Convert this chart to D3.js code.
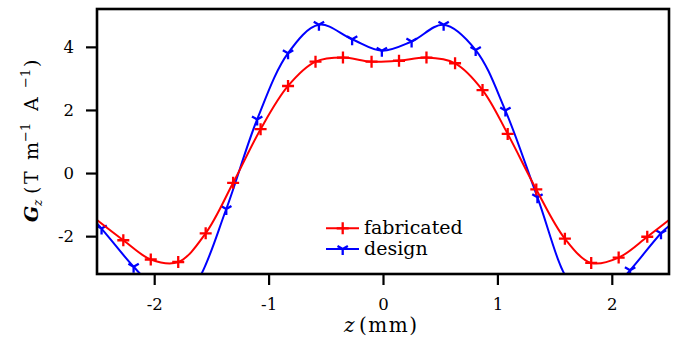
<!DOCTYPE html>
<html lang="en">
<head>
  <meta charset="UTF-8">
  <title>Gz profile</title>
  <script src="https://d3js.org/d3.v7.min.js"></script>
  <style>
    html, body { margin: 0; background: #fff; }
    svg { display: block; }
    svg text { font-family: "DejaVu Serif", serif; fill: #000; }
  </style>
</head>
<body>
  <svg width="677" height="347"></svg>
  <script>
    // marker points
    const fabZ = [-2.27, -2.03, -1.79, -1.55, -1.31, -1.07, -0.83, -0.59, -0.35, -0.10,
                  0.14, 0.38, 0.63, 0.87, 1.09, 1.34, 1.59, 1.82, 2.06, 2.31];
    const fabG = [-2.13, -2.74, -2.82, -1.91, -0.31, 1.39, 2.76, 3.53, 3.66, 3.53,
                  3.56, 3.66, 3.48, 2.63, 1.24, -0.52, -2.08, -2.85, -2.68, -2.02];
    // extra curve points without markers (edges)
    const fabExtraZ = [-2.5, 2.5];
    const fabExtraG = [-1.49, -1.49];

    const desZ = [-2.46, -2.18, -1.37, -1.10, -0.83, -0.56, -0.27, -0.01,
                  0.25, 0.53, 0.81, 1.07, 1.35, 2.16, 2.43];
    const desG = [-1.76, -2.97, -1.14, 1.70, 3.80, 4.70, 4.24, 3.88,
                  4.17, 4.70, 3.90, 1.98, -0.77, -3.08, -1.91];
    // curve continues below the frame there
    const desExtraZ = [-2.5, -2.0, -1.86, -1.72, -1.62, 1.62, 1.74, 1.88, 2.02, 2.5];
    const desExtraG = [-1.60, -3.60, -3.78, -3.68, -3.40, -3.40, -3.68, -3.78, -3.60, -1.68];

    const xTicks = [-2, -1, 0, 1, 2];
    const yTicks = [-2, 0, 2, 4];

    const svg = d3.select("svg");
    const pL = 97, pR = 669, pT = 9, pB = 274;
    const tick = 11;

    const x = d3.scaleLinear().domain([-2.5, 2.5]).range([pL, pR]);
    const y = d3.scaleLinear().domain([-3.2, 5.2]).range([pB, pT]);

    svg.append("clipPath").attr("id", "clip")
      .append("rect")
      .attr("x", pL).attr("y", pT)
      .attr("width", pR - pL).attr("height", pB - pT);

    const merge = (za, ga, zb, gb) =>
      za.map((z, i) => [z, ga[i]]).concat(zb.map((z, i) => [z, gb[i]]))
        .sort((a, b) => a[0] - b[0]);

    const line = d3.line()
      .x(d => x(d[0]))
      .y(d => y(d[1]))
      .curve(d3.curveCatmullRom.alpha(0.5));

    const plot = svg.append("g").attr("clip-path", "url(#clip)");

    const series = [
      { name: "design", color: "#0000ff", z: desZ, g: desG, ez: desExtraZ, eg: desExtraG, marker: "tri" },
      { name: "fabricated", color: "#ff0000", z: fabZ, g: fabG, ez: fabExtraZ, eg: fabExtraG, marker: "plus" }
    ];

    const ms = 6;
    function markerPath(type) {
      if (type === "plus") return `M${-ms},0H${ms}M0,${-ms}V${ms}`;
      const a = ms * 0.866, b = ms * 0.5;
      return `M0,0V${ms}M0,0L${-a},${-b}M0,0L${a},${-b}`;
    }

    series.forEach(s => {
      plot.append("path")
        .attr("d", line(merge(s.z, s.g, s.ez, s.eg)))
        .attr("fill", "none")
        .attr("stroke", s.color)
        .attr("stroke-width", 2);

      plot.append("g")
        .selectAll("path")
        .data(s.z.map((z, i) => [z, s.g[i]]))
        .enter().append("path")
        .attr("transform", d => `translate(${x(d[0])},${y(d[1])})`)
        .attr("d", markerPath(s.marker))
        .attr("fill", "none")
        .attr("stroke", s.color)
        .attr("stroke-width", 2.3);
    });

    // axes
    const fmt = d => d < 0 ? "-" + Math.abs(d) : d;
    const xAxis = svg.append("g")
      .attr("transform", `translate(0,${pB})`)
      .call(d3.axisBottom(x).tickValues(xTicks).tickSize(tick).tickPadding(13).tickFormat(fmt));
    const yAxis = svg.append("g")
      .attr("transform", `translate(${pL},0)`)
      .call(d3.axisLeft(y).tickValues(yTicks).tickSize(tick).tickPadding(12).tickFormat(fmt));
    [xAxis, yAxis].forEach(a => {
      a.attr("font-size", null).attr("font-family", null);
      a.select(".domain").remove();
      a.selectAll(".tick line").attr("stroke", "#000").attr("stroke-width", 2.2);
      a.selectAll(".tick text").style("font-size", "16.5px");
    });
    xAxis.selectAll(".tick line").attr("y1", 0).attr("y2", tick);
    xAxis.selectAll(".tick text").attr("y", 24);
    yAxis.selectAll(".tick line").attr("x1", 0).attr("x2", -tick);
    yAxis.selectAll(".tick text").attr("x", -23).attr("text-anchor", "end");

    svg.append("rect")
      .attr("x", pL).attr("y", pT)
      .attr("width", pR - pL).attr("height", pB - pT)
      .attr("fill", "none").attr("stroke", "#000").attr("stroke-width", 2.6);

    // x label
    const xl = svg.append("text").attr("y", 332).style("font-size", "20px");
    xl.append("tspan").attr("x", 344).attr("font-style", "italic").text("z");
    xl.append("tspan").attr("x", 359).style("letter-spacing", "1.5px").text("(mm)");

    // y label, laid out along the rotated baseline
    const yl = svg.append("text")
      .attr("transform", "translate(38,222) rotate(-90)")
      .style("font-size", "19px");
    const ylParts = [
      { t: "G", lx: 0, fs: 19, dy: 0, bold: true, it: true },
      { t: "z", lx: 16, fs: 12, dy: 4, it: true },
      { t: "(", lx: 28, fs: 19, dy: -4 },
      { t: "T", lx: 38, fs: 19, dy: 0 },
      { t: "m", lx: 62, fs: 19, dy: 0 },
      { t: "−1", lx: 80, fs: 13, dy: -8 },
      { t: "A", lx: 111, fs: 19, dy: 8 },
      { t: "−1", lx: 134, fs: 13, dy: -8 },
      { t: ")", lx: 155, fs: 19, dy: 8 }
    ];
    ylParts.forEach(p => {
      yl.append("tspan")
        .attr("x", p.lx).attr("dy", p.dy)
        .style("font-size", p.fs + "px")
        .attr("font-weight", p.bold ? "bold" : null)
        .attr("font-style", p.it ? "italic" : null)
        .text(p.t);
    });

    // legend
    const legend = svg.append("g");
    [series[1], series[0]].forEach((s, i) => {
      const ly = 228.3 + i * 20.7;
      legend.append("line")
        .attr("x1", 326).attr("x2", 359).attr("y1", ly).attr("y2", ly)
        .attr("stroke", s.color).attr("stroke-width", 2);
      legend.append("path")
        .attr("transform", `translate(342.7,${ly})`)
        .attr("d", markerPath(s.marker))
        .attr("fill", "none").attr("stroke", s.color).attr("stroke-width", 2.3);
      legend.append("text")
        .attr("x", 364).attr("y", ly + 6)
        .style("font-size", "19px")
        .text(s.name);
    });
  </script>
</body>
</html>
